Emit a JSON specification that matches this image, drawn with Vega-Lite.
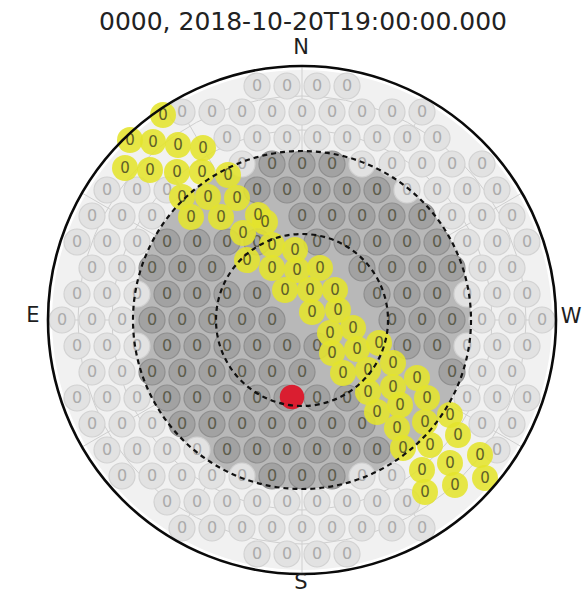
{
  "$schema": "https://vega.github.io/schema/vega-lite/v6.json",
  "width": 508,
  "height": 508,
  "autosize": {"type": "none"},
  "padding": {"left": 48, "top": 66, "right": 27, "bottom": 21},
  "background": "white",
  "config": {"view": {"stroke": null}, "font": "DejaVu Sans"},
  "datasets": {
    "heading": [{"txt": "0000, 2018-10-20T19:00:00.000", "x": 1, "y": 298}],
    "rings": [
      {"r": 250, "kind": "bg"},
      {"r": 169, "kind": "core"},
      {"r": 190, "kind": "grid"},
      {"r": 224, "kind": "grid"},
      {"r": 169, "kind": "dash"},
      {"r": 86, "kind": "dash"},
      {"r": 254, "kind": "edge"}
    ],
    "spokes": [
      {"x0": 0, "y0": 0, "x": 0, "y": 254}, {"x0": 0, "y0": 0, "x": 127, "y": 220}, {"x0": 0, "y0": 0, "x": 220, "y": 127}, {"x0": 0, "y0": 0, "x": 254, "y": 0},
      {"x0": 0, "y0": 0, "x": 220, "y": -127}, {"x0": 0, "y0": 0, "x": 127, "y": -220}, {"x0": 0, "y0": 0, "x": 0, "y": -254}, {"x0": 0, "y0": 0, "x": -127, "y": -220},
      {"x0": 0, "y0": 0, "x": -220, "y": -127}, {"x0": 0, "y0": 0, "x": -254, "y": 0}, {"x0": 0, "y0": 0, "x": -220, "y": 127}, {"x0": 0, "y0": 0, "x": -127, "y": 220}
    ],
    "labels": [
      {"lab": "N", "x": -1, "y": 272},
      {"lab": "S", "x": -1, "y": -263},
      {"lab": "E", "x": -269, "y": 4},
      {"lab": "W", "x": 269, "y": 3}
    ],
    "target": [{"x": -10, "y": -77}],
    "grid": [
      {"x": -45, "y": 234}, {"x": -15, "y": 234}, {"x": 15, "y": 234}, {"x": 45, "y": 234},
      {"x": -120, "y": 208}, {"x": -90, "y": 208}, {"x": -60, "y": 208}, {"x": -30, "y": 208}, {"x": 0, "y": 208}, {"x": 30, "y": 208}, {"x": 60, "y": 208}, {"x": 90, "y": 208}, {"x": 120, "y": 208},
      {"x": -75, "y": 182}, {"x": -45, "y": 182}, {"x": -15, "y": 182}, {"x": 15, "y": 182}, {"x": 45, "y": 182}, {"x": 75, "y": 182}, {"x": 105, "y": 182}, {"x": 135, "y": 182},
      {"x": -60, "y": 156}, {"x": -30, "y": 156}, {"x": 0, "y": 156}, {"x": 30, "y": 156}, {"x": 60, "y": 156}, {"x": 90, "y": 156}, {"x": 120, "y": 156}, {"x": 150, "y": 156}, {"x": 180, "y": 156},
      {"x": -195, "y": 130}, {"x": -165, "y": 130}, {"x": -135, "y": 130}, {"x": -45, "y": 130}, {"x": -15, "y": 130}, {"x": 15, "y": 130}, {"x": 45, "y": 130}, {"x": 75, "y": 130}, {"x": 105, "y": 130}, {"x": 135, "y": 130}, {"x": 165, "y": 130}, {"x": 195, "y": 130},
      {"x": -210, "y": 104}, {"x": -180, "y": 104}, {"x": -150, "y": 104}, {"x": 0, "y": 104}, {"x": 30, "y": 104}, {"x": 60, "y": 104}, {"x": 90, "y": 104}, {"x": 120, "y": 104}, {"x": 150, "y": 104}, {"x": 180, "y": 104}, {"x": 210, "y": 104},
      {"x": -225, "y": 78}, {"x": -195, "y": 78}, {"x": -165, "y": 78}, {"x": -135, "y": 78}, {"x": -105, "y": 78}, {"x": -75, "y": 78}, {"x": -45, "y": 78}, {"x": 15, "y": 78}, {"x": 45, "y": 78}, {"x": 75, "y": 78}, {"x": 105, "y": 78}, {"x": 135, "y": 78}, {"x": 165, "y": 78}, {"x": 195, "y": 78}, {"x": 225, "y": 78},
      {"x": -210, "y": 52}, {"x": -180, "y": 52}, {"x": -150, "y": 52}, {"x": -120, "y": 52}, {"x": -90, "y": 52}, {"x": 60, "y": 52}, {"x": 90, "y": 52}, {"x": 120, "y": 52}, {"x": 150, "y": 52}, {"x": 180, "y": 52}, {"x": 210, "y": 52},
      {"x": -225, "y": 26}, {"x": -195, "y": 26}, {"x": -165, "y": 26}, {"x": -135, "y": 26}, {"x": -105, "y": 26}, {"x": -75, "y": 26}, {"x": -45, "y": 26}, {"x": 75, "y": 26}, {"x": 105, "y": 26}, {"x": 135, "y": 26}, {"x": 165, "y": 26}, {"x": 195, "y": 26}, {"x": 225, "y": 26},
      {"x": -240, "y": 0}, {"x": -210, "y": 0}, {"x": -180, "y": 0}, {"x": -150, "y": 0}, {"x": -120, "y": 0}, {"x": -90, "y": 0}, {"x": -60, "y": 0}, {"x": -30, "y": 0}, {"x": 90, "y": 0}, {"x": 120, "y": 0}, {"x": 150, "y": 0}, {"x": 180, "y": 0}, {"x": 210, "y": 0}, {"x": 240, "y": 0},
      {"x": -225, "y": -26}, {"x": -195, "y": -26}, {"x": -165, "y": -26}, {"x": -135, "y": -26}, {"x": -105, "y": -26}, {"x": -75, "y": -26}, {"x": -45, "y": -26}, {"x": -15, "y": -26}, {"x": 15, "y": -26}, {"x": 105, "y": -26}, {"x": 135, "y": -26}, {"x": 165, "y": -26}, {"x": 195, "y": -26}, {"x": 225, "y": -26},
      {"x": -210, "y": -52}, {"x": -180, "y": -52}, {"x": -150, "y": -52}, {"x": -120, "y": -52}, {"x": -90, "y": -52}, {"x": -60, "y": -52}, {"x": -30, "y": -52}, {"x": 0, "y": -52}, {"x": 150, "y": -52}, {"x": 180, "y": -52}, {"x": 210, "y": -52},
      {"x": -225, "y": -78}, {"x": -195, "y": -78}, {"x": -165, "y": -78}, {"x": -135, "y": -78}, {"x": -105, "y": -78}, {"x": -75, "y": -78}, {"x": -45, "y": -78}, {"x": -15, "y": -78}, {"x": 15, "y": -78}, {"x": 45, "y": -78}, {"x": 165, "y": -78}, {"x": 195, "y": -78}, {"x": 225, "y": -78},
      {"x": -210, "y": -104}, {"x": -180, "y": -104}, {"x": -150, "y": -104}, {"x": -120, "y": -104}, {"x": -90, "y": -104}, {"x": -60, "y": -104}, {"x": -30, "y": -104}, {"x": 0, "y": -104}, {"x": 30, "y": -104}, {"x": 60, "y": -104}, {"x": 180, "y": -104}, {"x": 210, "y": -104},
      {"x": -195, "y": -130}, {"x": -165, "y": -130}, {"x": -135, "y": -130}, {"x": -105, "y": -130}, {"x": -75, "y": -130}, {"x": -45, "y": -130}, {"x": -15, "y": -130}, {"x": 15, "y": -130}, {"x": 45, "y": -130}, {"x": 75, "y": -130}, {"x": 195, "y": -130},
      {"x": -180, "y": -156}, {"x": -150, "y": -156}, {"x": -120, "y": -156}, {"x": -90, "y": -156}, {"x": -60, "y": -156}, {"x": -30, "y": -156}, {"x": 0, "y": -156}, {"x": 30, "y": -156}, {"x": 60, "y": -156}, {"x": 90, "y": -156},
      {"x": -135, "y": -182}, {"x": -105, "y": -182}, {"x": -75, "y": -182}, {"x": -45, "y": -182}, {"x": -15, "y": -182}, {"x": 15, "y": -182}, {"x": 45, "y": -182}, {"x": 75, "y": -182}, {"x": 105, "y": -182},
      {"x": -120, "y": -208}, {"x": -90, "y": -208}, {"x": -60, "y": -208}, {"x": -30, "y": -208}, {"x": 0, "y": -208}, {"x": 30, "y": -208}, {"x": 60, "y": -208}, {"x": 90, "y": -208}, {"x": 120, "y": -208},
      {"x": -45, "y": -234}, {"x": -15, "y": -234}, {"x": 15, "y": -234}, {"x": 45, "y": -234}
    ],
    "band": [
      {"x": -139, "y": 205}, {"x": -172, "y": 180}, {"x": -149, "y": 178}, {"x": -124, "y": 175}, {"x": -99, "y": 172},
      {"x": -177, "y": 152}, {"x": -152, "y": 150}, {"x": -125, "y": 148}, {"x": -100, "y": 148}, {"x": -74, "y": 145},
      {"x": -120, "y": 123}, {"x": -94, "y": 123}, {"x": -65, "y": 122}, {"x": -111, "y": 103}, {"x": -81, "y": 103},
      {"x": -44, "y": 105}, {"x": -37, "y": 98}, {"x": -59, "y": 87}, {"x": -30, "y": 75}, {"x": -7, "y": 70},
      {"x": -55, "y": 60}, {"x": -30, "y": 52}, {"x": -5, "y": 50}, {"x": 18, "y": 52}, {"x": -17, "y": 30},
      {"x": 8, "y": 30}, {"x": 33, "y": 30}, {"x": 10, "y": 8}, {"x": 36, "y": 10}, {"x": 28, "y": -13},
      {"x": 51, "y": -8}, {"x": 30, "y": -33}, {"x": 55, "y": -29}, {"x": 77, "y": -23}, {"x": 41, "y": -53},
      {"x": 66, "y": -50}, {"x": 91, "y": -43}, {"x": 66, "y": -72}, {"x": 91, "y": -67}, {"x": 115, "y": -58},
      {"x": 75, "y": -92}, {"x": 98, "y": -85}, {"x": 125, "y": -78}, {"x": 95, "y": -108}, {"x": 123, "y": -102},
      {"x": 148, "y": -95}, {"x": 101, "y": -128}, {"x": 128, "y": -125}, {"x": 156, "y": -115}, {"x": 120, "y": -150},
      {"x": 148, "y": -143}, {"x": 178, "y": -135}, {"x": 123, "y": -172}, {"x": 153, "y": -165}, {"x": 183, "y": -158}
    ]
  },
  "layer": [
    {
      "data": {"name": "rings"},
      "transform": [{"filter": "datum.kind == 'bg'"}],
      "mark": {"type": "point", "shape": "circle", "filled": true, "color": "#f1f1f1", "opacity": 1, "strokeWidth": 0},
      "encoding": {
        "x": {"datum": 0, "type": "quantitative", "scale": {"domain": [-254, 254], "nice": false, "zero": false}, "axis": null},
        "y": {"datum": 0, "type": "quantitative", "scale": {"domain": [-254, 254], "nice": false, "zero": false}, "axis": null},
        "size": {"field": "r", "type": "quantitative", "scale": {"type": "pow", "exponent": 2, "domain": [0, 254], "range": [0, 258064]}, "legend": null}
      }
    },
    {
      "data": {"name": "rings"},
      "transform": [{"filter": "datum.kind == 'grid'"}],
      "mark": {"type": "point", "shape": "circle", "filled": false, "color": "#cfcfcf", "opacity": 1, "strokeWidth": 1},
      "encoding": {
        "x": {"datum": 0, "type": "quantitative"},
        "y": {"datum": 0, "type": "quantitative"},
        "size": {"field": "r", "type": "quantitative", "legend": null}
      }
    },
    {
      "data": {"name": "spokes"},
      "mark": {"type": "rule", "color": "#cfcfcf", "strokeWidth": 1},
      "encoding": {
        "x": {"field": "x0", "type": "quantitative"},
        "y": {"field": "y0", "type": "quantitative"},
        "x2": {"field": "x"},
        "y2": {"field": "y"}
      }
    },
    {
      "data": {"name": "rings"},
      "transform": [{"filter": "datum.kind == 'core'"}],
      "mark": {"type": "point", "shape": "circle", "filled": true, "color": "#b8b8b8", "opacity": 1, "strokeWidth": 0},
      "encoding": {
        "x": {"datum": 0, "type": "quantitative"},
        "y": {"datum": 0, "type": "quantitative"},
        "size": {"field": "r", "type": "quantitative", "legend": null}
      }
    },
    {
      "data": {"name": "grid"},
      "mark": {"type": "point", "shape": "circle", "filled": true, "opacity": 1, "size": 676, "strokeWidth": 1.2},
      "encoding": {
        "x": {"field": "x", "type": "quantitative"},
        "y": {"field": "y", "type": "quantitative"},
        "fill": {"condition": {"test": "datum.x*datum.x + datum.y*datum.y < 27900", "value": "#a2a2a2"}, "value": "#e2e2e2"},
        "stroke": {"condition": {"test": "datum.x*datum.x + datum.y*datum.y < 27900", "value": "#8e8e8e"}, "value": "#d2d2d2"}
      }
    },
    {
      "data": {"name": "grid"},
      "mark": {"type": "text", "text": "0", "fontSize": 16, "align": "center", "baseline": "middle", "font": "DejaVu Sans"},
      "encoding": {
        "x": {"field": "x", "type": "quantitative"},
        "y": {"field": "y", "type": "quantitative"},
        "color": {"condition": {"test": "datum.x*datum.x + datum.y*datum.y < 27900", "value": "#5c5c4c"}, "value": "#ababab"}
      }
    },
    {
      "data": {"name": "band"},
      "mark": {"type": "point", "shape": "circle", "filled": true, "opacity": 0.88, "size": 676, "color": "#e4e42c", "strokeWidth": 0},
      "encoding": {
        "x": {"field": "x", "type": "quantitative"},
        "y": {"field": "y", "type": "quantitative"}
      }
    },
    {
      "data": {"name": "band"},
      "mark": {"type": "text", "text": "0", "fontSize": 15, "align": "center", "baseline": "middle", "font": "DejaVu Sans", "color": "#5e5e28"},
      "encoding": {
        "x": {"field": "x", "type": "quantitative"},
        "y": {"field": "y", "type": "quantitative"}
      }
    },
    {
      "data": {"name": "target"},
      "mark": {"type": "point", "shape": "circle", "filled": true, "opacity": 1, "size": 600, "color": "#da1e30", "strokeWidth": 0},
      "encoding": {
        "x": {"field": "x", "type": "quantitative"},
        "y": {"field": "y", "type": "quantitative"}
      }
    },
    {
      "data": {"name": "rings"},
      "transform": [{"filter": "datum.kind == 'dash'"}],
      "mark": {"type": "point", "shape": "circle", "filled": false, "color": "#111111", "opacity": 1, "strokeWidth": 2.2, "strokeDash": [5, 4]},
      "encoding": {
        "x": {"datum": 0, "type": "quantitative"},
        "y": {"datum": 0, "type": "quantitative"},
        "size": {"field": "r", "type": "quantitative", "legend": null}
      }
    },
    {
      "data": {"name": "rings"},
      "transform": [{"filter": "datum.kind == 'edge'"}],
      "mark": {"type": "point", "shape": "circle", "filled": false, "color": "#0a0a0a", "opacity": 1, "strokeWidth": 2.6},
      "encoding": {
        "x": {"datum": 0, "type": "quantitative"},
        "y": {"datum": 0, "type": "quantitative"},
        "size": {"field": "r", "type": "quantitative", "legend": null}
      }
    },
    {
      "data": {"name": "labels"},
      "mark": {"type": "text", "fontSize": 21, "align": "center", "baseline": "middle", "font": "DejaVu Sans", "color": "#1e1e1e"},
      "encoding": {
        "x": {"field": "x", "type": "quantitative"},
        "y": {"field": "y", "type": "quantitative"},
        "text": {"field": "lab"}
      }
    },
    {
      "data": {"name": "heading"},
      "mark": {"type": "text", "fontSize": 25, "align": "center", "baseline": "middle", "font": "DejaVu Sans", "color": "#222222"},
      "encoding": {
        "x": {"field": "x", "type": "quantitative"},
        "y": {"field": "y", "type": "quantitative"},
        "text": {"field": "txt"}
      }
    }
  ]
}
